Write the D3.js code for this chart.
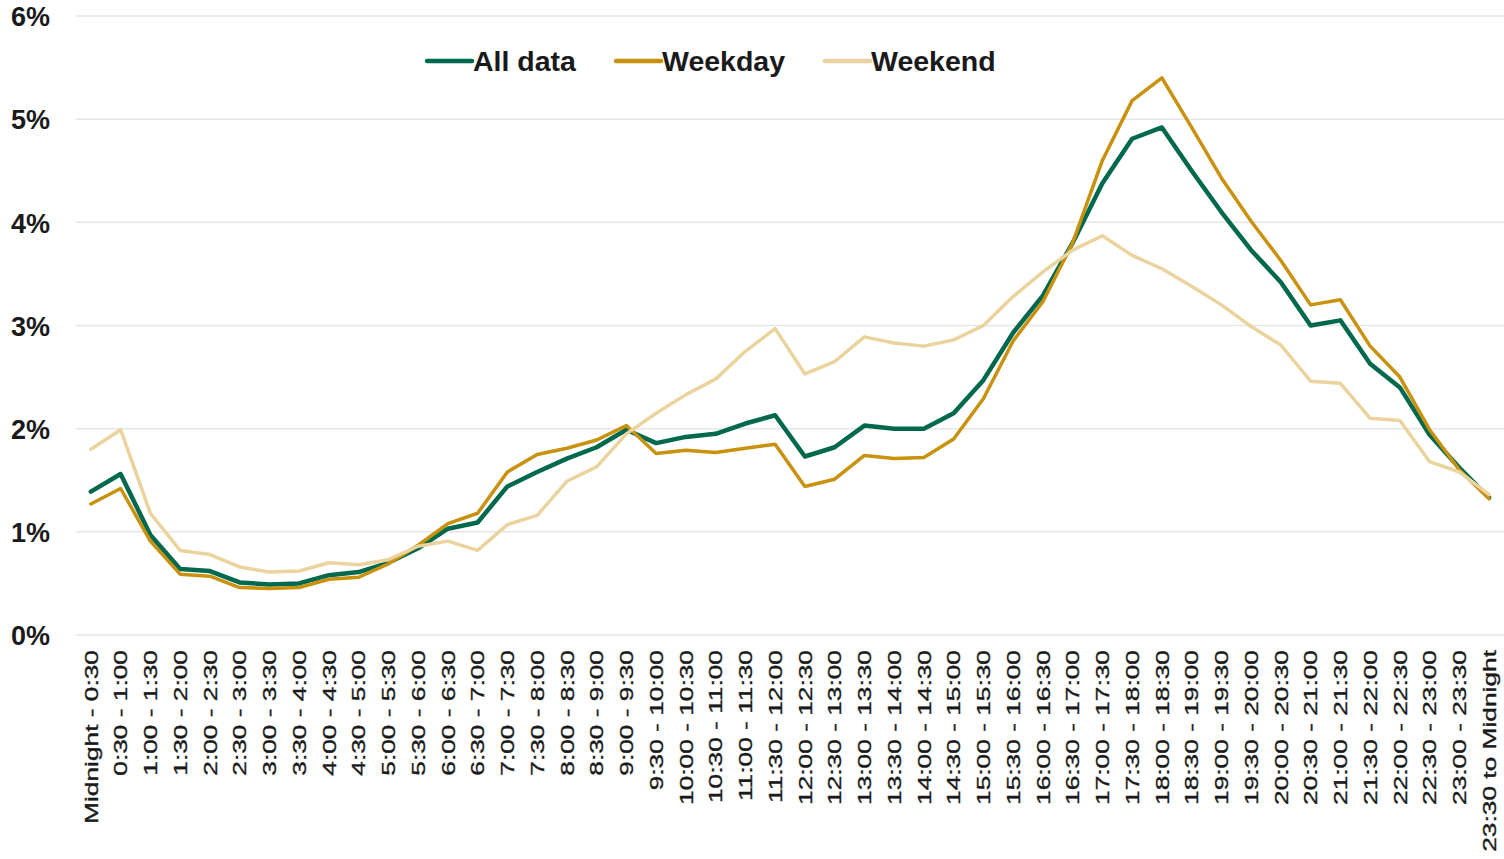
<!DOCTYPE html>
<html>
<head>
<meta charset="utf-8">
<script src="https://cdn.jsdelivr.net/npm/d3@7/dist/d3.min.js"></script>
<style>
  html, body { margin: 0; padding: 0; background: #fff; }
  svg { display: block; }
  text { font-family: Arial, "Liberation Sans", sans-serif; fill: #1a1a1a; }
</style>
</head>
<body>
<svg id="chart" width="1504" height="859"></svg>
<script>
const categories = [
  "Midnight - 0:30", "0:30 - 1:00", "1:00 - 1:30", "1:30 - 2:00", "2:00 - 2:30", "2:30 - 3:00",
  "3:00 - 3:30", "3:30 - 4:00", "4:00 - 4:30", "4:30 - 5:00", "5:00 - 5:30", "5:30 - 6:00",
  "6:00 - 6:30", "6:30 - 7:00", "7:00 - 7:30", "7:30 - 8:00", "8:00 - 8:30", "8:30 - 9:00",
  "9:00 - 9:30", "9:30 - 10:00", "10:00 - 10:30", "10:30 - 11:00", "11:00 - 11:30", "11:30 - 12:00",
  "12:00 - 12:30", "12:30 - 13:00", "13:00 - 13:30", "13:30 - 14:00", "14:00 - 14:30", "14:30 - 15:00",
  "15:00 - 15:30", "15:30 - 16:00", "16:00 - 16:30", "16:30 - 17:00", "17:00 - 17:30", "17:30 - 18:00",
  "18:00 - 18:30", "18:30 - 19:00", "19:00 - 19:30", "19:30 - 20:00", "20:00 - 20:30", "20:30 - 21:00",
  "21:00 - 21:30", "21:30 - 22:00", "22:00 - 22:30", "22:30 - 23:00", "23:00 - 23:30", "23:30 to Midnight"
];

const allData = [
  1.39, 1.56, 0.97, 0.64, 0.62, 0.51, 0.49, 0.50, 0.58, 0.61, 0.70, 0.84,
  1.03, 1.09, 1.44, 1.58, 1.71, 1.82, 1.99, 1.86, 1.92, 1.95, 2.05, 2.13,
  1.73, 1.82, 2.03, 2.00, 2.00, 2.15, 2.47, 2.93, 3.29, 3.80, 4.38, 4.81,
  4.92, 4.50, 4.10, 3.73, 3.42, 3.00, 3.05, 2.63, 2.40, 1.94, 1.62, 1.33
];

const weekday = [
  1.27, 1.42, 0.91, 0.59, 0.57, 0.46, 0.45, 0.46, 0.54, 0.56, 0.69, 0.87,
  1.08, 1.18, 1.58, 1.75, 1.81, 1.89, 2.03, 1.76, 1.79, 1.77, 1.81, 1.85,
  1.44, 1.51, 1.74, 1.71, 1.72, 1.90, 2.29, 2.85, 3.23, 3.80, 4.60, 5.18,
  5.40, 4.92, 4.43, 4.01, 3.63, 3.20, 3.25, 2.80, 2.50, 1.99, 1.60, 1.32
];

const weekend = [
  1.80, 1.99, 1.18, 0.82, 0.78, 0.66, 0.61, 0.62, 0.70, 0.68, 0.73, 0.86,
  0.91, 0.82, 1.07, 1.16, 1.49, 1.63, 1.95, 2.15, 2.33, 2.48, 2.75, 2.97,
  2.53, 2.65, 2.89, 2.83, 2.80, 2.86, 3.00, 3.28, 3.52, 3.73, 3.87, 3.68,
  3.55, 3.38, 3.20, 2.99, 2.81, 2.46, 2.44, 2.10, 2.08, 1.68, 1.58, 1.36
];

const yTicks = [0, 1, 2, 3, 4, 5, 6];
const seriesNames = ["All data", "Weekday", "Weekend"];

const svg = d3.select("#chart");
const plotLeft = 76, plotRight = 1504, plotTop = 16, plotBottom = 635;

const x = d3.scaleBand().domain(categories).range([plotLeft, plotRight]).padding(0);
const y = d3.scaleLinear().domain([0, 6]).range([plotBottom, plotTop]);

// gridlines
svg.append("g")
  .selectAll("line")
  .data(yTicks)
  .join("line")
  .attr("x1", plotLeft).attr("x2", plotRight)
  .attr("y1", d => y(d)).attr("y2", d => y(d))
  .attr("stroke", "#e6e6e6")
  .attr("stroke-width", 1.5);

// y axis labels
const yAxis = d3.axisLeft(y).tickValues(yTicks).tickFormat(d => d + "%").tickSize(0).tickPadding(0);
const yg = svg.append("g").attr("transform", "translate(50,0)").call(yAxis);
yg.select(".domain").remove();
yg.selectAll("text")
  .attr("font-size", 27).attr("font-weight", "bold")
  .attr("font-family", "Arial, 'Liberation Sans', sans-serif")
  .attr("fill", "#1a1a1a").attr("dy", "0.36em");

// x axis labels
const xAxis = d3.axisBottom(x).tickSize(0).tickPadding(0);
const xg = svg.append("g").attr("transform", `translate(0,${plotBottom})`).call(xAxis);
xg.select(".domain").remove();
const xt = xg.selectAll("text")
  .attr("font-size", 19)
  .attr("font-family", "Arial, 'Liberation Sans', sans-serif")
  .attr("fill", "#1a1a1a")
  .attr("stroke", "#1a1a1a")
  .attr("stroke-width", 0.35)
  .attr("text-anchor", "end")
  .attr("x", 0).attr("y", 0).attr("dy", "0.36em");
const firstLen = xt.node().getComputedTextLength();
const stretch = 174 / firstLen;
xt.attr("transform", `translate(0,15) rotate(-90) scale(${stretch},1)`);

// lines
const line = d3.line()
  .x((d, i) => x(categories[i]) + x.bandwidth() / 2)
  .y(d => y(d));

const series = [
  { name: seriesNames[0], values: allData, color: "#00694d", width: 4.5 },
  { name: seriesNames[1], values: weekday, color: "#c8910e", width: 3.5 },
  { name: seriesNames[2], values: weekend, color: "#ead39d", width: 3.5 }
];

svg.append("g")
  .selectAll("path")
  .data(series)
  .join("path")
  .attr("d", d => line(d.values))
  .attr("fill", "none")
  .attr("stroke", d => d.color)
  .attr("stroke-width", d => d.width)
  .attr("stroke-linejoin", "round")
  .attr("stroke-linecap", "round");

// legend
const legendX = [427, 616, 825];
const leg = svg.append("g")
  .selectAll("g")
  .data(series)
  .join("g")
  .attr("transform", (d, i) => `translate(${legendX[i]},61)`);
leg.append("line")
  .attr("x1", 0).attr("x2", 45).attr("y1", 0).attr("y2", 0)
  .attr("stroke", d => d.color)
  .attr("stroke-width", 4.5)
  .attr("stroke-linecap", "round");
leg.append("text")
  .attr("x", 46).attr("y", 0).attr("dy", "0.36em")
  .attr("font-size", 28.5).attr("font-weight", "bold")
  .text(d => d.name);
</script>
</body>
</html>
